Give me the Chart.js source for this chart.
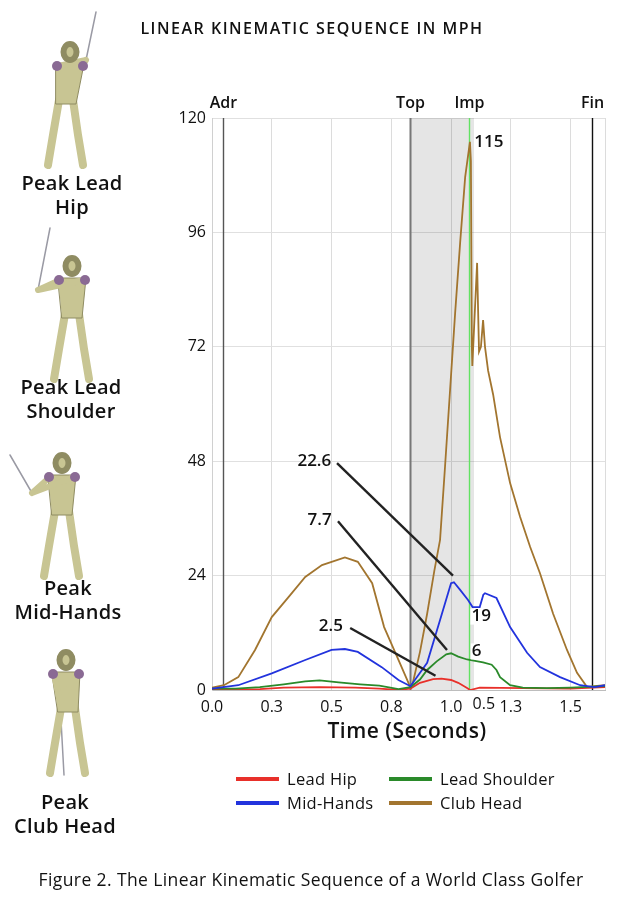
<!DOCTYPE html>
<html lang="en">
<head>
    <meta charset="UTF-8">
    <title>Linear Kinematic Sequence</title>
    <style>
        body {
            margin: 0;
            padding: 0;
            background-color: #fff;
            font-family: "Open Sans", Arial, sans-serif;
            color: #111;
        }

        #page {
            position: relative;
            width: 624px;
            height: 900px;
            overflow: hidden;
        }

        #chart {
            position: absolute;
            left: 0;
            top: 0;
        }

        .txt {
            position: absolute;
            white-space: nowrap;
            transform: translate(-50%, -50%);
        }

        .title {
            font-size: 16px;
            font-weight: 600;
            letter-spacing: 1.5px;
        }

        .side {
            font-size: 20px;
            font-weight: 600;
            text-align: center;
            line-height: 24px;
            letter-spacing: 0.3px;
        }

        .legend-row {
            position: absolute;
            font-size: 16.5px;
            font-weight: 500;
        }
        .legend-row span.sw {
            position: absolute;
            width: 43px;
            height: 4px;
            top: -2px;
        }
        .legend-row span.lb {
            position: absolute;
            top: -12px;
            white-space: nowrap;
            letter-spacing: 0.3px;
        }
    </style>
    <script src="https://cdn.jsdelivr.net/npm/chart.js"></script>
</head>
<body>
<div id="page">
    <canvas id="chart" width="624" height="900"></canvas>

    <div class="txt title" style="left:312px; top:28px;">LINEAR KINEMATIC SEQUENCE IN MPH</div>

    <div class="txt side" style="left:72px; top:195px;">Peak Lead<br>Hip</div>
    <div class="txt side" style="left:71px; top:399px;">Peak Lead<br>Shoulder</div>
    <div class="txt side" style="left:68px; top:600px;">Peak<br>Mid-Hands</div>
    <div class="txt side" style="left:65px; top:814px;">Peak<br>Club Head</div>

    <div class="txt" style="left:407px; top:730px; font-size:21px; font-weight:600; letter-spacing:0.5px;">Time (Seconds)</div>

    <div id="legend"></div>

    <div class="txt" style="left:311px; top:879px; font-size:17.5px; font-weight:500; letter-spacing:0.4px;">Figure 2. The Linear Kinematic Sequence of a World Class Golfer</div>
</div>

<script>
    // values (time in s, speed in mph)
    const hipTime  = [0, 0.1, 0.2, 0.3, 0.45, 0.6, 0.7, 0.78, 0.83, 0.87, 0.925, 0.96, 1.0, 1.03, 1.067, 1.08, 1.12, 1.3, 1.5, 1.644];
    const hipMph   = [0.2, 0.1, 0.2, 0.5, 0.6, 0.5, 0.3, 0.0, 0.3, 1.5, 2.3, 2.4, 2.1, 1.5, 0.4, 0.0, 0.5, 0.4, 0.3, 0.6];

    const shoulderTime = [0, 0.1, 0.2, 0.3, 0.39, 0.45, 0.53, 0.62, 0.7, 0.78, 0.83, 0.87, 0.9, 0.94, 0.98, 1.0, 1.03, 1.067, 1.1, 1.134, 1.17, 1.19, 1.205, 1.247, 1.3, 1.4, 1.5, 1.644];
    const shoulderMph  = [0.3, 0.3, 0.6, 1.2, 1.8, 2.0, 1.6, 1.2, 0.9, 0.2, 0.6, 2.2, 4.2, 6.0, 7.5, 7.7, 7.0, 6.4, 6.1, 5.8, 5.3, 4.2, 2.7, 1.0, 0.5, 0.4, 0.5, 0.8];

    const handsTime = [0, 0.11, 0.25, 0.39, 0.5, 0.556, 0.61, 0.71, 0.78, 0.83, 0.9, 0.954, 1.0, 1.012, 1.038, 1.071, 1.09, 1.12, 1.135, 1.142, 1.19, 1.247, 1.318, 1.372, 1.456, 1.54, 1.6, 1.644];
    const handsMph  = [0.3, 1.0, 3.5, 6.3, 8.4, 8.6, 8.0, 4.8, 2.1, 0.8, 5.7, 14.7, 22.4, 22.6, 21.0, 18.9, 17.4, 17.4, 20.0, 20.3, 19.3, 13.2, 7.8, 4.8, 2.7, 1.0, 0.6, 1.0];

    const clubTime = [0, 0.05, 0.11, 0.18, 0.25, 0.32, 0.39, 0.46, 0.556, 0.61, 0.67, 0.72, 0.78, 0.82, 0.83,
                      0.84, 0.87, 0.9, 0.93, 0.954, 0.975, 0.996, 1.017, 1.038, 1.059, 1.079, 1.083, 1.087, 1.089,
                      1.1, 1.109, 1.113, 1.117, 1.125, 1.134, 1.142, 1.155, 1.176, 1.205, 1.247, 1.289, 1.331,
                      1.372, 1.427, 1.485, 1.527, 1.569, 1.6, 1.644];
    const clubMph  = [0.5, 1.0, 2.7, 8.4, 15.3, 19.5, 23.7, 26.2, 27.8, 26.9, 22.4, 13.2, 6.3, 1.7, 0.4,
                      1.5, 8.0, 16.0, 25.0, 31.5, 47.0, 63.0, 79.0, 93.8, 107.6, 115.0, 111.0, 72.0, 68.0,
                      80.0, 89.6, 80.0, 71.0, 72.0, 77.6, 72.0, 67.0, 62.0, 53.0, 43.4, 36.3, 30.0,
                      24.5, 16.0, 8.4, 3.6, 0.6, 0.8, 1.0];

    const xTicks = [0, 0.25, 0.5, 0.75, 1.0, 1.25, 1.5, 1.644];
    const yTicks = [0, 24, 48, 72, 96, 120];

    // swing events: Adr, Top, Imp, Fin
    const eventNames = ['Adr', 'Top', 'Imp', 'Fin'];
    const eventTimes = [0.046, 0.828, 1.075, 1.59];
    const eventColors = ['#555', '#777', '#62e262', '#111'];

    // callout labels: text, label position, leader line start/end (data units)
    const noteText = ['22.6', '7.7', '2.5'];
    const noteLabel = [[0.428, 48.0], [0.45, 35.6], [0.497, 13.3]];
    const noteFrom = [[0.523, 47.6], [0.527, 35.4], [0.578, 13.0]];
    const noteTo = [[1.008, 24.0], [0.983, 8.4], [0.935, 3.0]];

    const tagText = ['115', '19', '6'];
    const tagPos = [[1.158, 115.0], [1.126, 15.4], [1.107, 8.1]];

    // stray "0.5" label sitting under the impact line
    const strayText = '0.5';
    const strayPos = [1.137, -3.0];

    const seriesNames = ['Lead Hip', 'Lead Shoulder', 'Mid-Hands', 'Club Head'];
    const seriesColors = ['#e8302a', '#2a8a2a', '#2233dd', '#a2752f'];

    function toPoints(ts, vs) {
        return ts.map(function(t, i) { return { x: t, y: vs[i] }; });
    }

    function drawGolfer(ctx, hx, hy, hands, tip, lean) {
        var skin = '#c8c593', edge = '#8f8c62';
        ctx.save();
        ctx.lineCap = 'round';
        // club
        ctx.strokeStyle = '#9a9aa4';
        ctx.lineWidth = 1.5;
        ctx.beginPath();
        ctx.moveTo(hands[0], hands[1]);
        ctx.lineTo(tip[0], tip[1]);
        ctx.stroke();
        var sy = hy + 14, hipY = hy + 48, hipX = hx + lean;
        // legs
        ctx.strokeStyle = skin;
        ctx.lineWidth = 8;
        ctx.beginPath();
        ctx.moveTo(hipX - 7, hipY); ctx.lineTo(hipX - 13, hipY + 35); ctx.lineTo(hipX - 18, hipY + 65);
        ctx.moveTo(hipX + 7, hipY); ctx.lineTo(hipX + 12, hipY + 35); ctx.lineTo(hipX + 17, hipY + 65);
        ctx.stroke();
        // torso
        ctx.fillStyle = skin;
        ctx.strokeStyle = edge;
        ctx.lineWidth = 1;
        ctx.beginPath();
        ctx.moveTo(hx - 14, sy - 2);
        ctx.lineTo(hx + 14, sy - 2);
        ctx.lineTo(hipX + 10, hipY + 4);
        ctx.lineTo(hipX - 10, hipY + 4);
        ctx.closePath();
        ctx.fill();
        ctx.stroke();
        // arms
        ctx.strokeStyle = skin;
        ctx.lineWidth = 6;
        ctx.beginPath();
        ctx.moveTo(hx - 12, sy); ctx.lineTo(hands[0], hands[1]);
        ctx.moveTo(hx + 12, sy); ctx.lineTo(hands[0], hands[1]);
        ctx.stroke();
        // shoulders
        ctx.fillStyle = '#8a6a94';
        ctx.beginPath(); ctx.arc(hx - 13, sy, 5, 0, Math.PI * 2); ctx.fill();
        ctx.beginPath(); ctx.arc(hx + 13, sy, 5, 0, Math.PI * 2); ctx.fill();
        // head
        ctx.fillStyle = skin;
        ctx.strokeStyle = edge;
        ctx.beginPath(); ctx.ellipse(hx, hy, 6.5, 8, 0, 0, Math.PI * 2); ctx.fill(); ctx.stroke();
        ctx.restore();
    }

    var tickFont = { family: '"Open Sans", Arial, sans-serif', size: 16, weight: 500 };

    const decorPlugin = {
        id: 'decor',
        beforeDraw: function(chart) {
            var ctx = chart.ctx;
            drawGolfer(ctx, 70, 52, [86, 60], [96, 12], -4);
            drawGolfer(ctx, 72, 266, [38, 290], [50, 228], 0);
            drawGolfer(ctx, 62, 463, [32, 493], [10, 455], 0);
            drawGolfer(ctx, 66, 660, [60, 702], [64, 775], 2);
        },
        beforeDatasetsDraw: function(chart) {
            var ctx = chart.ctx, a = chart.chartArea, xs = chart.scales.x;
            ctx.save();
            // shaded downswing
            var x0 = xs.getPixelForValue(eventTimes[1]);
            var x1 = xs.getPixelForValue(1.096);
            ctx.fillStyle = 'rgba(0,0,0,0.1)';
            ctx.fillRect(x0, a.top, x1 - x0, a.bottom - a.top);
            // event markers
            ctx.font = '600 16px "Open Sans", Arial, sans-serif';
            ctx.textAlign = 'center';
            ctx.textBaseline = 'middle';
            eventTimes.forEach(function(t, i) {
                var x = Math.round(xs.getPixelForValue(t)) + 0.5;
                ctx.strokeStyle = eventColors[i];
                ctx.lineWidth = i === 1 ? 2 : 1.4;
                ctx.beginPath();
                ctx.moveTo(x, a.top);
                ctx.lineTo(x, a.bottom);
                ctx.stroke();
                ctx.fillStyle = '#111';
                ctx.fillText(eventNames[i], x, a.top - 15);
            });
            ctx.restore();
        },
        afterDatasetsDraw: function(chart) {
            var ctx = chart.ctx, xs = chart.scales.x, ys = chart.scales.y;
            ctx.save();
            ctx.strokeStyle = '#222';
            ctx.lineWidth = 2.4;
            ctx.font = '600 17px "Open Sans", Arial, sans-serif';
            ctx.textAlign = 'center';
            ctx.textBaseline = 'middle';
            ctx.fillStyle = '#111';
            noteText.forEach(function(txt, i) {
                ctx.beginPath();
                ctx.moveTo(xs.getPixelForValue(noteFrom[i][0]), ys.getPixelForValue(noteFrom[i][1]));
                ctx.lineTo(xs.getPixelForValue(noteTo[i][0]), ys.getPixelForValue(noteTo[i][1]));
                ctx.stroke();
                ctx.fillText(txt, xs.getPixelForValue(noteLabel[i][0]), ys.getPixelForValue(noteLabel[i][1]));
            });
            tagText.forEach(function(txt, i) {
                var x = xs.getPixelForValue(tagPos[i][0]), y = ys.getPixelForValue(tagPos[i][1]);
                if (txt === '19' || txt === '6') {
                    var w = ctx.measureText(txt).width;
                    ctx.fillStyle = '#fff';
                    ctx.fillRect(x - w / 2 - 1, y - 8, w + 2, 16);
                    ctx.fillStyle = '#111';
                }
                ctx.fillText(txt, x, y);
            });
            ctx.font = tickFont.weight + ' ' + tickFont.size + 'px ' + tickFont.family;
            ctx.fillText(strayText, xs.getPixelForValue(strayPos[0]), ys.getPixelForValue(strayPos[1]));
            ctx.restore();
        }
    };

    var datasets = [
        { t: hipTime, v: hipMph },
        { t: shoulderTime, v: shoulderMph },
        { t: handsTime, v: handsMph },
        { t: clubTime, v: clubMph }
    ].map(function(s, i) {
        return {
            label: seriesNames[i],
            data: toPoints(s.t, s.v),
            borderColor: seriesColors[i],
            backgroundColor: seriesColors[i],
            borderWidth: 1.8,
            pointRadius: 0,
            tension: 0
        };
    });
    // club head underneath the others
    datasets.forEach(function(d, i) { d.order = 4 - i; });
    datasets[3].order = 10;

    var ctx = document.getElementById('chart').getContext('2d');
    var myChart = new Chart(ctx, {
        type: 'line',
        data: { datasets: datasets },
        options: {
            responsive: false,
            animation: false,
            layout: { padding: { left: 160, right: 19, top: 118, bottom: 150 } },
            plugins: {
                legend: { display: false },
                tooltip: { enabled: false }
            },
            scales: {
                x: {
                    type: 'linear',
                    min: 0,
                    max: 1.644,
                    afterFit: function(s) { s.height = 60; },
                    afterBuildTicks: function(s) {
                        s.ticks = xTicks.map(function(v) { return { value: v }; });
                    },
                    ticks: {
                        padding: 8,
                        color: '#111',
                        font: tickFont,
                        maxRotation: 0,
                        autoSkip: false,
                        callback: function(v) {
                            var k = v / 0.25;
                            return Math.abs(k - Math.round(k)) < 1e-6 ? v.toFixed(1) : '';
                        }
                    },
                    grid: { color: '#dcdcdc', drawTicks: false },
                    border: { color: '#bdbdbd' }
                },
                y: {
                    min: 0,
                    max: 120,
                    afterFit: function(s) { s.width = 52; },
                    afterBuildTicks: function(s) {
                        s.ticks = yTicks.map(function(v) { return { value: v }; });
                    },
                    ticks: {
                        padding: 6,
                        color: '#111',
                        font: tickFont
                    },
                    grid: { color: '#e0e0e0', drawTicks: false },
                    border: { color: '#d0d0d0' }
                }
            }
        },
        plugins: [decorPlugin]
    });

    // legend
    var legend = document.getElementById('legend');
    var legendPos = [[236, 779], [389, 779], [236, 803], [389, 803]];
    seriesNames.forEach(function(name, i) {
        var row = document.createElement('div');
        row.className = 'legend-row';
        row.style.left = legendPos[i][0] + 'px';
        row.style.top = legendPos[i][1] + 'px';
        var sw = document.createElement('span');
        sw.className = 'sw';
        sw.style.background = seriesColors[i];
        var lb = document.createElement('span');
        lb.className = 'lb';
        lb.style.left = '51px';
        lb.textContent = name;
        row.appendChild(sw);
        row.appendChild(lb);
        legend.appendChild(row);
    });
</script>
</body>
</html>
